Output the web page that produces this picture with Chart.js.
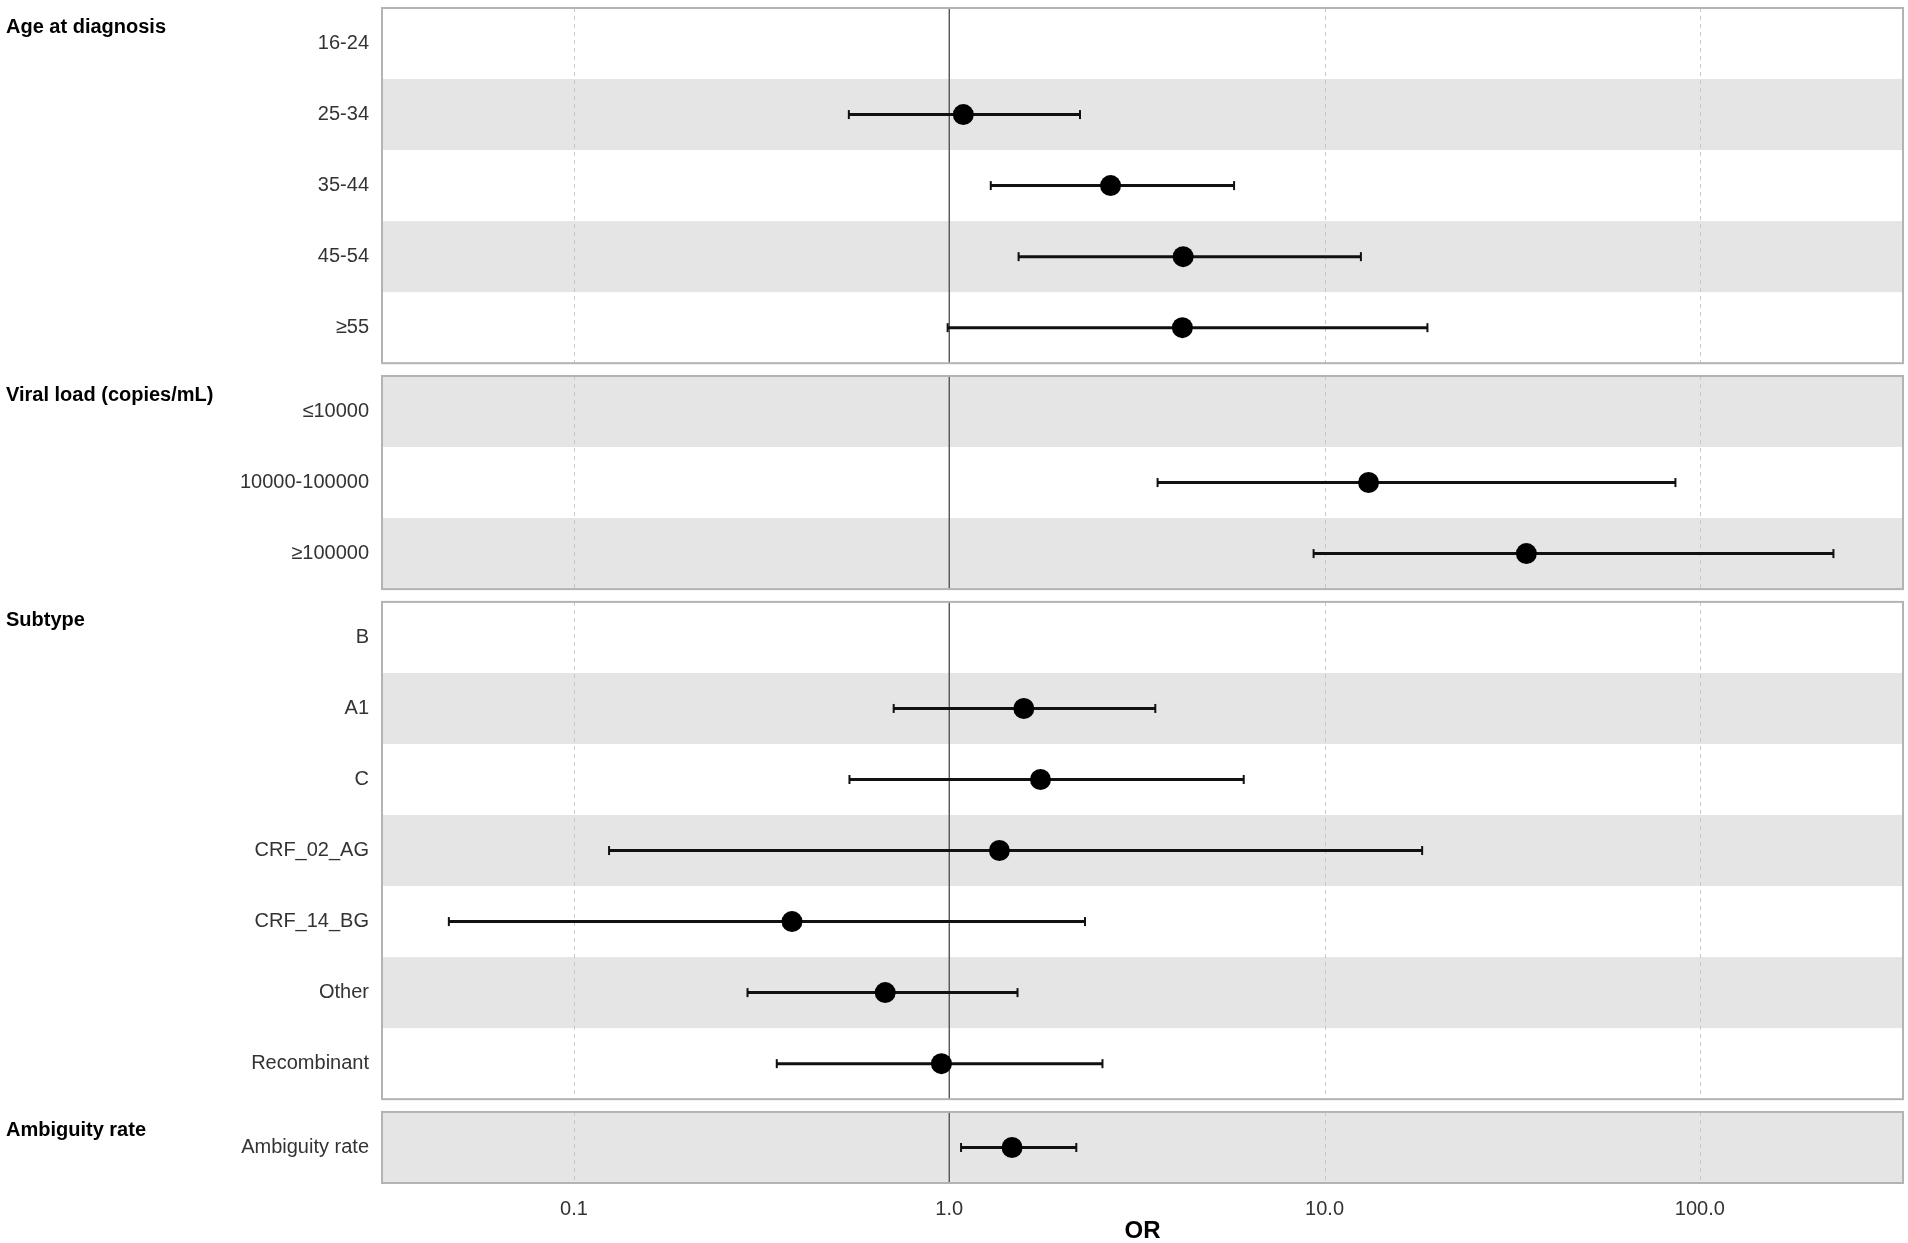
<!DOCTYPE html>
<html>
<head>
<meta charset="utf-8">
<script src="https://cdn.jsdelivr.net/npm/chart.js@4.4.1/dist/chart.umd.min.js"></script>
<style>
  html, body { margin: 0; padding: 0; background: #fff; }
  #wrap { width: 1908px; height: 1243px; position: relative; }
</style>
</head>
<body>
<div id="wrap"><canvas id="forest"></canvas></div>
<script>
// group titles (one panel each)
const groupTitles = ["Age at diagnosis", "Viral load (copies/mL)", "Subtype", "Ambiguity rate"];

// Age at diagnosis
const ageLabels = ["16-24", "25-34", "35-44", "45-54", "\u226555"];
const ageOR = [null, 1.09, 2.69, 4.20, 4.18];
const ageLow = [null, 0.54, 1.29, 1.53, 0.99];
const ageHigh = [null, 2.23, 5.74, 12.5, 18.8];

// Viral load
const viralLabels = ["\u226410000", "10000-100000", "\u2265100000"];
const viralOR = [null, 13.1, 34.5];
const viralLow = [null, 3.59, 9.35];
const viralHigh = [null, 86.1, 227];

// Subtype
const subtypeLabels = ["B", "A1", "C", "CRF_02_AG", "CRF_14_BG", "Other", "Recombinant"];
const subtypeOR = [null, 1.58, 1.75, 1.36, 0.381, 0.675, 0.953];
const subtypeLow = [null, 0.711, 0.542, 0.124, 0.0464, 0.290, 0.347];
const subtypeHigh = [null, 3.54, 6.09, 18.2, 2.30, 1.52, 2.56];

// Ambiguity rate
const ambLabels = ["Ambiguity rate"];
const ambOR = [1.47];
const ambLow = [1.075];
const ambHigh = [2.18];

// x axis
const xTicks = [0.1, 1, 10, 100];
const xMin = 0.0306;
const xMax = 350;
const refValue = 1;

const FONT = "'Liberation Sans', Arial, sans-serif";
const PANEL_GAP = 0.18; // gap between panels, in rows

const panels = [
  { title: groupTitles[0], labels: ageLabels, or: ageOR, lo: ageLow, hi: ageHigh },
  { title: groupTitles[1], labels: viralLabels, or: viralOR, lo: viralLow, hi: viralHigh },
  { title: groupTitles[2], labels: subtypeLabels, or: subtypeOR, lo: subtypeLow, hi: subtypeHigh },
  { title: groupTitles[3], labels: ambLabels, or: ambOR, lo: ambLow, hi: ambHigh }
];

// row positions on the y scale
const rowPos = [];
const rowLabels = [];
const rowStripe = [];
const pointData = [];
const whiskerData = [];
let start = 0;
let globalRow = 0;
panels.forEach(function (p) {
  p.start = start;
  p.end = start + p.labels.length;
  p.labels.forEach(function (lab, i) {
    const y = start + i + 0.5;
    rowPos.push(y);
    rowLabels.push(lab);
    rowStripe.push(globalRow % 2 === 1);
    if (p.or[i] != null) {
      pointData.push({ x: p.or[i], y: y });
      whiskerData.push({ x: p.lo[i], y: y }, { x: p.hi[i], y: y }, { x: null, y: null });
    }
    globalRow++;
  });
  start = p.end + PANEL_GAP;
});
const yMax = panels[panels.length - 1].end;

const panelPlugin = {
  id: "panels",
  beforeDatasetsDraw(chart) {
    const ctx = chart.ctx;
    const xs = chart.scales.x;
    const ys = chart.scales.y;
    const left = chart.chartArea.left;
    const right = chart.chartArea.right;
    ctx.save();
    // stripes
    rowPos.forEach(function (v, i) {
      if (!rowStripe[i]) return;
      const t = ys.getPixelForValue(v - 0.5);
      const b = ys.getPixelForValue(v + 0.5);
      ctx.fillStyle = "#e5e5e5";
      ctx.fillRect(left, t, right - left, b - t);
    });
    panels.forEach(function (p) {
      const t = ys.getPixelForValue(p.start);
      const b = ys.getPixelForValue(p.end);
      // dashed grid lines
      ctx.setLineDash([4, 4]);
      ctx.strokeStyle = "#c8c8c8";
      ctx.lineWidth = 1;
      xTicks.forEach(function (v) {
        if (v === refValue) return;
        const x = Math.round(xs.getPixelForValue(v)) + 0.5;
        ctx.beginPath();
        ctx.moveTo(x, t);
        ctx.lineTo(x, b);
        ctx.stroke();
      });
      ctx.setLineDash([]);
      // reference line at OR = 1
      const xr = xs.getPixelForValue(refValue);
      ctx.strokeStyle = "#555";
      ctx.lineWidth = 1.4;
      ctx.beginPath();
      ctx.moveTo(xr, t);
      ctx.lineTo(xr, b);
      ctx.stroke();
      // panel border
      ctx.strokeStyle = "#b3b3b3";
      ctx.lineWidth = 2;
      ctx.strokeRect(left + 1, t, right - left - 2, b - t);
    });
    ctx.restore();
  },
  afterDraw(chart) {
    const ctx = chart.ctx;
    const ys = chart.scales.y;
    ctx.save();
    ctx.fillStyle = "#000";
    ctx.font = "bold 20px " + FONT;
    ctx.textAlign = "left";
    ctx.textBaseline = "middle";
    panels.forEach(function (p) {
      ctx.fillText(p.title, 6, ys.getPixelForValue(p.start) + 19);
    });
    ctx.restore();
  }
};

const config = {
  type: "scatter",
  data: {
    datasets: [
      {
        label: "OR",
        data: pointData,
        order: 0,
        pointRadius: 10.5,
        pointBackgroundColor: "#000",
        pointBorderWidth: 0,
        showLine: false
      },
      {
        label: "95% CI",
        data: whiskerData,
        order: 1,
        showLine: true,
        spanGaps: false,
        borderColor: "#111",
        borderWidth: 3,
        pointStyle: "line",
        pointRotation: 90,
        pointRadius: 4.5,
        pointBorderWidth: 2,
        pointBorderColor: "#111"
      }
    ]
  },
  options: {
    responsive: true,
    maintainAspectRatio: false,
    devicePixelRatio: 1,
    animation: false,
    layout: { autoPadding: false, padding: { top: 8, right: 4, left: 0, bottom: 0 } },
    plugins: {
      legend: { display: false },
      tooltip: { enabled: false }
    },
    scales: {
      x: {
        type: "logarithmic",
        min: xMin,
        max: xMax,
        grid: { display: false, drawTicks: false },
        border: { display: false },
        afterBuildTicks: function (scale) {
          scale.ticks = xTicks.map(function (v) { return { value: v }; });
        },
        afterFit: function (scale) {
          scale.height = 60;
          scale.paddingLeft = 0;
          scale.paddingRight = 0;
        },
        ticks: {
          autoSkip: false,
          maxRotation: 0,
          padding: 14,
          color: "#333",
          font: { family: FONT, size: 20 },
          callback: function (v) { return Number(v).toFixed(1); }
        },
        title: {
          display: true,
          text: "OR",
          color: "#000",
          padding: { top: 0, bottom: 0 },
          font: { family: FONT, size: 24, weight: "bold", lineHeight: 1.0 }
        }
      },
      y: {
        type: "linear",
        reverse: true,
        min: 0,
        max: yMax,
        grid: { display: false, drawTicks: false },
        border: { display: false },
        afterBuildTicks: function (scale) {
          scale.ticks = rowPos.map(function (v) { return { value: v }; });
        },
        afterFit: function (scale) {
          scale.width = 381;
          scale.paddingTop = 0;
          scale.paddingBottom = 0;
        },
        ticks: {
          autoSkip: false,
          padding: 12,
          color: "#333",
          font: { family: FONT, size: 20 },
          callback: function (v, i) { return rowLabels[i]; }
        }
      }
    }
  },
  plugins: [panelPlugin]
};

new Chart(document.getElementById("forest"), config);
</script>
</body>
</html>
